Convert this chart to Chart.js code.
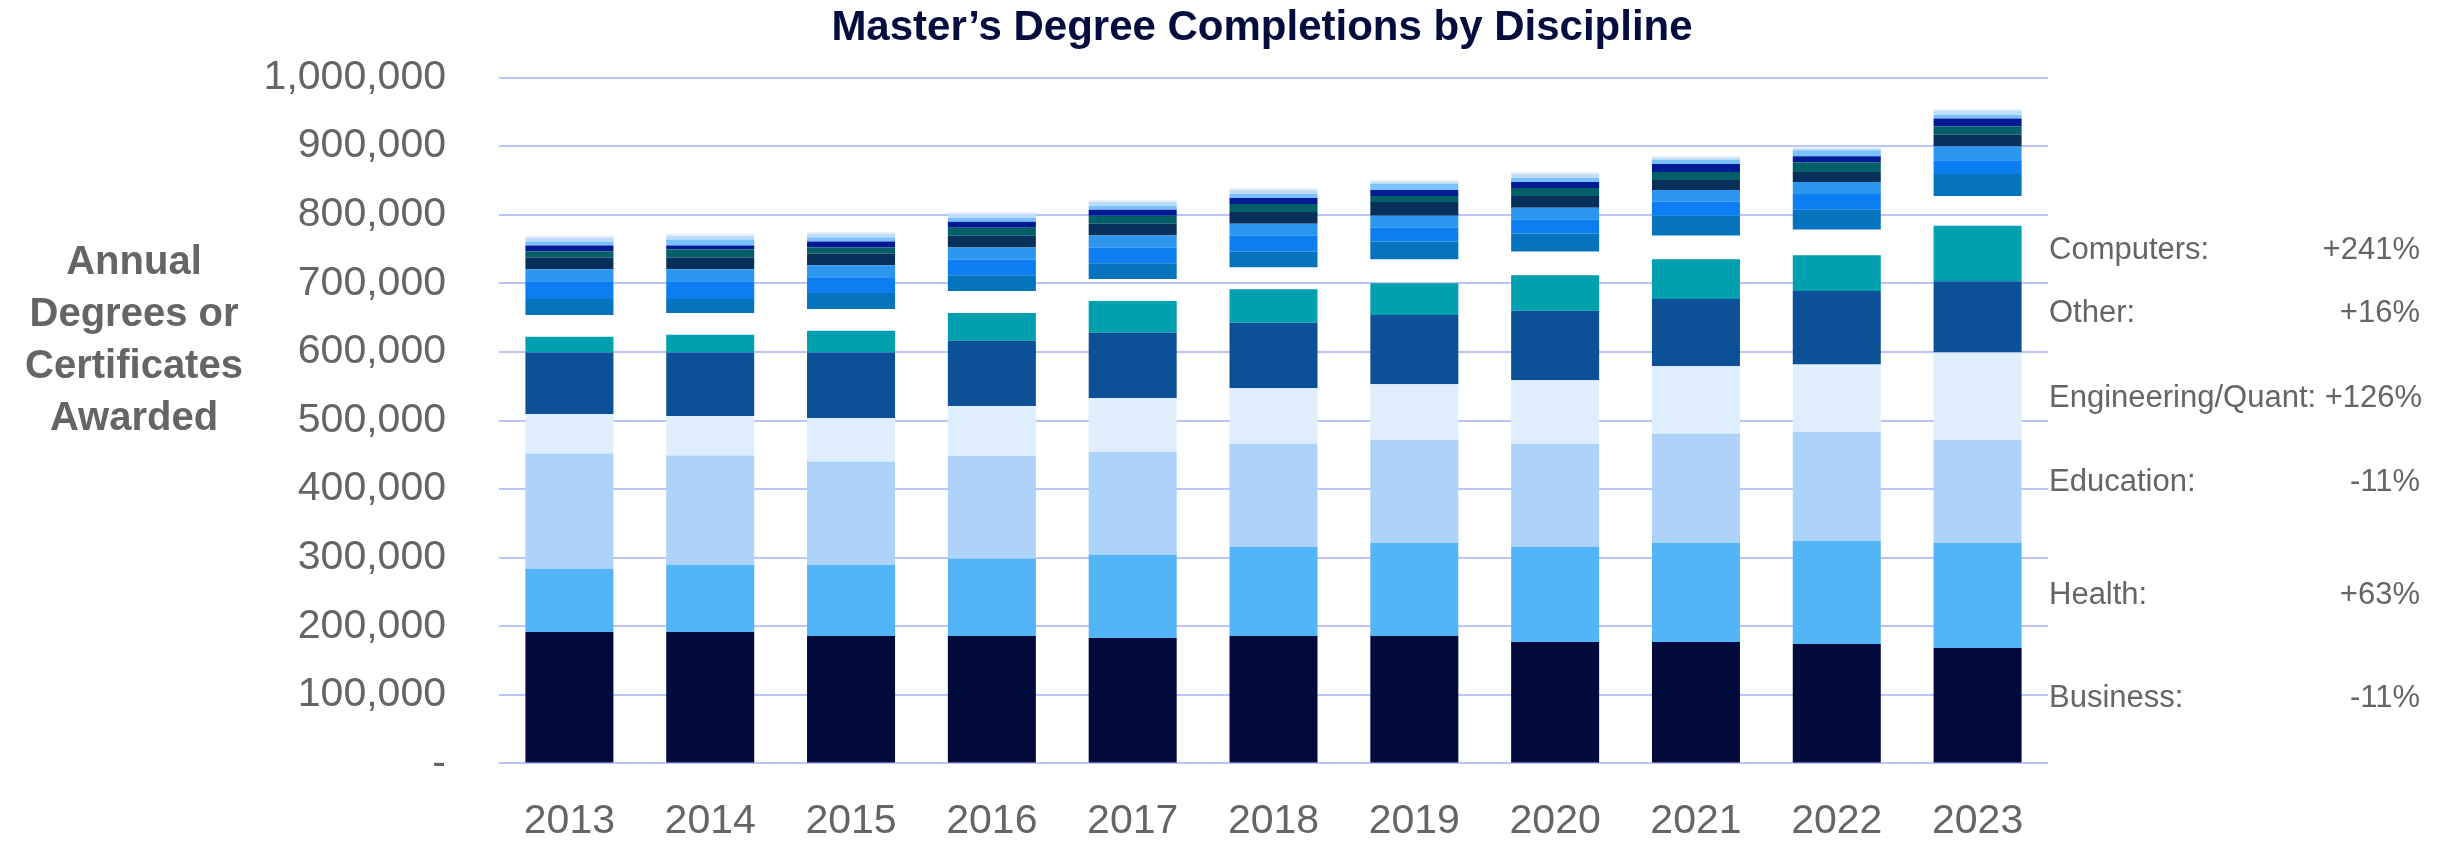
<!DOCTYPE html>
<html>
<head>
<meta charset="utf-8">
<title>Master’s Degree Completions by Discipline</title>
<script src="https://cdn.jsdelivr.net/npm/chart.js@4.4.1/dist/chart.umd.min.js"></script>
<style>
  html, body { margin: 0; padding: 0; background: #fff; }
  #wrap { width: 2461px; height: 841px; }
</style>
</head>
<body>
<div id="wrap"><canvas id="degreesChart" width="2461" height="841"></canvas></div>
<script>
const years = ['2013', '2014', '2015', '2016', '2017', '2018', '2019', '2020', '2021', '2022', '2023'];

// main disciplines (bottom of each bar)
const business    = [191500, 191500, 185700, 185700, 182900, 185700, 185700, 177100, 177100, 174200, 168400];
const health      = [ 92500,  98300, 104100, 112700, 121400, 130100, 135900, 138800, 144600, 150300, 153200];
const education   = [167700, 159000, 150300, 150300, 150300, 150300, 150300, 150300, 159000, 159000, 150300];
const engineering = [ 57800,  57800,  63600,  72300,  78100,  80900,  80900,  92500,  98300,  98300, 127200];
const other       = [ 89600,  92500,  95400,  95400,  95400,  95400, 101200, 101200,  98300, 107000, 104100];
const computers   = [ 23100,  26000,  31800,  40500,  46300,  49100,  46300,  52000,  57800,  52000,  80900];

// empty space between the two groups
const spacer      = [ 31800,  31800,  31800,  31800,  31800,  31800,  34700,  34700,  34700,  37600,  43400];

// smaller fields stacked on top
const minor1 = [23100, 20200, 23100, 23100, 23100, 23100, 26000, 26000, 28900, 28900, 31800];
const minor2 = [26000, 26000, 23100, 23100, 23100, 23100, 20200, 20200, 20200, 23100, 20200];
const minor3 = [17300, 17300, 17300, 17300, 17300, 17300, 17300, 17300, 17300, 17300, 20200];
const minor4 = [17300, 17300, 17300, 17300, 17300, 17300, 20200, 17300, 14500, 14500, 17300];
const minor5 = [ 8700, 11600,  8700, 11600, 11600, 11600,  8700, 11600, 11600, 14500, 11600];
const minor6 = [ 8700,  5800,  8700,  8700,  8700,  8700,  8700,  8700, 11600,  8700, 11600];
const minor7 = [ 5800,  8700,  5800,  5800,  5800,  5800,  8700,  5800,  5800,  8700,  5800];
const minor8 = [ 5800,  5800,  5800,  5800,  5800,  5800,  2900,  5800,  2900,  2500,  5800];
const minor9 = [ 2900,  2900,  2900,  2900,  2900,  2900,  2900,  2900,  2900,  1400,  2900];

const chartTitle = 'Master’s Degree Completions by Discipline';
const axisTitle = ['Annual', 'Degrees or', 'Certificates', 'Awarded'];
const noteNames = ['Computers:', 'Other:', 'Engineering/Quant:', 'Education:', 'Health:', 'Business:'];
const noteValues = ['+241%', '+16%', '+126%', '-11%', '+63%', '-11%'];

const FONT = '"Liberation Sans", Arial, Helvetica, sans-serif';
const GREY = '#656565';

function makeSet(label, data, color) {
    return {
        label: label,
        data: data,
        backgroundColor: color,
        borderWidth: 0,
        barPercentage: 0.625,
        categoryPercentage: 1
    };
}

// title, axis title and the % change notes on the right
const textPlugin = {
    id: 'textPlugin',
    afterDraw(chart) {
        const ctx = chart.ctx;
        ctx.save();
        ctx.textBaseline = 'middle';

        ctx.fillStyle = '#040d3e';
        ctx.font = 'bold 42px ' + FONT;
        ctx.textAlign = 'center';
        ctx.fillText(chartTitle, 1262, 28);

        ctx.fillStyle = GREY;
        ctx.font = 'bold 40px ' + FONT;
        axisTitle.forEach((line, i) => {
            ctx.fillText(line, 134, 263 + i * 52);
        });

        ctx.font = '31px ' + FONT;
        const noteY = [250, 313, 398, 482, 595, 698];
        noteNames.forEach((name, i) => {
            ctx.textAlign = 'left';
            if (i === 2) {
                ctx.fillText(name + ' ' + noteValues[i], 2049, noteY[i]);
                return;
            }
            ctx.fillText(name, 2049, noteY[i]);
            ctx.textAlign = 'right';
            ctx.fillText(noteValues[i], 2420, noteY[i]);
        });
        ctx.restore();
    }
};

const ctx = document.getElementById('degreesChart').getContext('2d');
new Chart(ctx, {
    type: 'bar',
    data: {
        labels: years,
        datasets: [
            makeSet('Business', business, '#020b3b'),
            makeSet('Health', health, '#53b4f8'),
            makeSet('Education', education, '#add3f9'),
            makeSet('Engineering/Quant', engineering, '#dfeefc'),
            makeSet('Other', other, '#0c5197'),
            makeSet('Computers', computers, '#00a0ae'),
            makeSet('', spacer, 'rgba(0,0,0,0)'),
            makeSet('Minor 1', minor1, '#0673be'),
            makeSet('Minor 2', minor2, '#0c7ef2'),
            makeSet('Minor 3', minor3, '#2d97ef'),
            makeSet('Minor 4', minor4, '#08305a'),
            makeSet('Minor 5', minor5, '#025f67'),
            makeSet('Minor 6', minor6, '#041a94'),
            makeSet('Minor 7', minor7, '#78c1fa'),
            makeSet('Minor 8', minor8, '#c0dcf9'),
            makeSet('Minor 9', minor9, '#e8f1fb')
        ]
    },
    options: {
        responsive: false,
        animation: false,
        layout: {
            padding: { left: 0, right: 413, top: 72, bottom: 0 }
        },
        plugins: {
            legend: { display: false },
            title: { display: false },
            tooltip: { enabled: false }
        },
        scales: {
            x: {
                stacked: true,
                grid: { display: false, drawTicks: false },
                border: { display: false },
                ticks: {
                    color: GREY,
                    font: { family: FONT, size: 41 },
                    padding: 34,
                    maxRotation: 0
                },
                afterFit(scale) { scale.height = 77; }
            },
            y: {
                stacked: true,
                min: 0,
                max: 1000000,
                grid: { color: '#bcc5fa', lineWidth: 2, drawTicks: false },
                border: { display: false },
                ticks: {
                    stepSize: 100000,
                    color: GREY,
                    font: { family: FONT, size: 41 },
                    padding: 53,
                    callback: (v) => v === 0 ? '-' : v.toLocaleString('en-US')
                },
                afterFit(scale) { scale.width = 499; }
            }
        }
    },
    plugins: [textPlugin]
});
</script>
</body>
</html>
